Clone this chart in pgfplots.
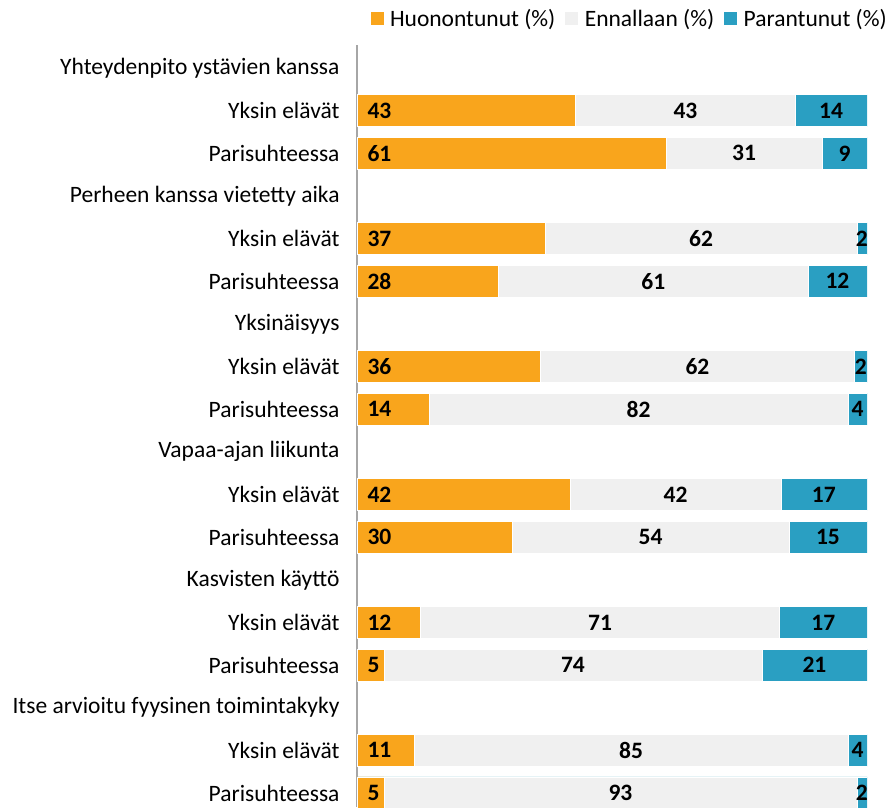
\documentclass[border=0pt]{standalone}
\usepackage{pgfplots}
\pgfplotsset{compat=1.18}
\usepackage{pgfplotstable}
\usepackage{fontspec}
\setmainfont{Carlito}
\definecolor{orangeC}{HTML}{F9A51C}
\definecolor{greyC}{HTML}{F0F0F0}
\definecolor{blueC}{HTML}{2A9FC2}
\definecolor{axisC}{HTML}{A6A6A6}
\newcommand{\fs}{\fontsize{23.5}{28}\selectfont}
% y = row index (0 = top); o = Huonontunut width; c = Huonontunut+Ennallaan; t = total
% gc / bc = centre of grey / blue segment; lo lg lb = printed values
\pgfplotstableread{
y  o     c     t    gc     bc     lo  lg  lb
1  42.9  85.9  100  64.4   92.95  43  43  14
2  60.6  91.2  100  75.9   95.6   61  31  9
4  36.9  98.0  100  67.45  99.0   37  62  2
5  27.8  88.4  100  58.1   94.2   28  61  12
7  35.9  97.6  100  66.75  98.8   36  62  2
8  14.1  96.3  100  55.2   98.15  14  82  4
10 41.8  83.1  100  62.45  91.55  42  42  17
11 30.4  84.7  100  57.55  92.35  30  54  15
13 12.4  82.9  100  47.65  91.45  12  71  17
14 5.3   79.4  100  42.35  89.7   5   74  21
16 11.2  96.3  100  53.75  98.15  11  85  4
17 5.3   98.0  100  51.65  99.0   5   93  2
}\data
\begin{document}
\begin{tikzpicture}
\path[use as bounding box] (0pt,0pt) rectangle (889pt,-807pt);
\begin{axis}[
  at={(357pt,-807pt)}, anchor=south west,
  scale only axis, width=510pt, height=762pt,
  xmin=0, xmax=100, ymin=-0.54, ymax=17.33, y dir=reverse,
  axis x line=none, axis y line*=left,
  y axis line style={draw=axisC, line width=1.2pt},
  xtick=\empty,
  ytick={0,...,17},
  yticklabels={Yhteydenpito ystävien kanssa, Yksin elävät, Parisuhteessa,
    Perheen kanssa vietetty aika, Yksin elävät, Parisuhteessa,
    Yksinäisyys, Yksin elävät, Parisuhteessa,
    Vapaa-ajan liikunta, Yksin elävät, Parisuhteessa,
    Kasvisten käyttö, Yksin elävät, Parisuhteessa,
    Itse arvioitu fyysinen toimintakyky, Yksin elävät, Parisuhteessa},
  major tick length=0pt,
  yticklabel style={font=\fs, text=black, anchor=east, xshift=-14pt},
  bar width=0.75,
  legend image code/.code={\fill[#1] (0pt,-6pt) rectangle (12pt,6pt);},
  legend style={draw=none, fill=none, font=\fs,
    legend columns=3, at={(1,1)}, anchor=south east, xshift=25pt, yshift=13pt,
    /tikz/every even column/.append style={column sep=8pt},
    /tikz/every odd column/.append style={column sep=5pt}},
  legend cell align=left,
]
\addplot[xbar, fill=blueC, draw=white, line width=0.6pt, forget plot] table[x=t, y=y] \data;
\addplot[xbar, fill=greyC, draw=white, line width=0.6pt, forget plot] table[x=c, y=y] \data;
\addplot[xbar, fill=orangeC, draw=white, line width=0.6pt, forget plot] table[x=o, y=y] \data;
\addplot[only marks, mark=none, forget plot, nodes near coords, point meta=explicit symbolic,
  nodes near coords align={west},
  every node near coord/.append style={font=\fs\bfseries, text=black, xshift=7pt}]
  table[x expr=0, y=y, meta=lo] \data;
\addplot[only marks, mark=none, forget plot, nodes near coords, point meta=explicit symbolic,
  nodes near coords align={center},
  every node near coord/.append style={font=\fs\bfseries, text=black}]
  table[x=gc, y=y, meta=lg] \data;
\addplot[only marks, mark=none, forget plot, nodes near coords, point meta=explicit symbolic,
  nodes near coords align={center},
  every node near coord/.append style={font=\fs\bfseries, text=black}]
  table[x=bc, y=y, meta=lb] \data;
\addlegendimage{orangeC}
\addlegendentry{Huonontunut (\%)}
\addlegendimage{greyC}
\addlegendentry{Ennallaan (\%)}
\addlegendimage{blueC}
\addlegendentry{Parantunut (\%)}
\end{axis}
\end{tikzpicture}
\end{document}
